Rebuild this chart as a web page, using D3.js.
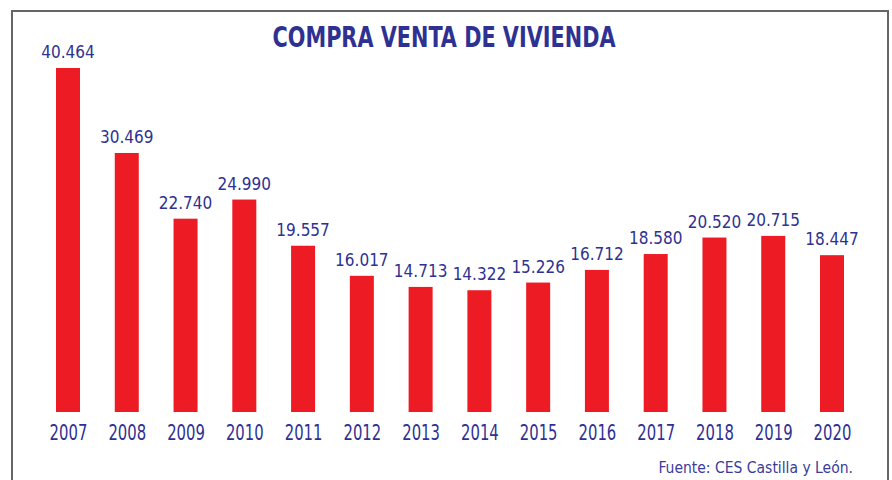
<!DOCTYPE html>
<html>
<head>
<meta charset="utf-8">
<script src="https://cdn.jsdelivr.net/npm/d3@7"></script>
<style>
  body { margin: 0; background: #fff; }
  svg { display: block; }
</style>
</head>
<body>
<div id="chart"></div>
<script>
var years = ["2007", "2008", "2009", "2010", "2011", "2012", "2013",
             "2014", "2015", "2016", "2017", "2018", "2019", "2020"];
var ventas = [40464, 30469, 22740, 24990, 19557, 16017, 14713,
              14322, 15226, 16712, 18580, 20520, 20715, 18447];
var valueLabels = ["40.464", "30.469", "22.740", "24.990", "19.557", "16.017", "14.713",
                   "14.322", "15.226", "16.712", "18.580", "20.520", "20.715", "18.447"];

var width = 892, height = 480;
var blue = "#2e3192", red = "#ed1c24";

var svg = d3.select("#chart")
    .append("svg")
    .attr("width", width)
    .attr("height", height);

// frame
svg.append("rect")
    .attr("x", 12).attr("y", 11)
    .attr("width", 876).attr("height", 480)
    .attr("fill", "none")
    .attr("stroke", "#666")
    .attr("stroke-width", 2);

var x = d3.scalePoint()
    .domain(years)
    .range([68, 832]);

var y = d3.scaleLinear()
    .domain([0, d3.max(ventas)])
    .range([412, 68]);

var barW = 24;
var data = years.map(function(d, i) { return {year: d, v: ventas[i], label: valueLabels[i]}; });

svg.selectAll(".bar")
    .data(data)
    .enter().append("rect")
    .attr("class", "bar")
    .attr("x", function(d) { return x(d.year) - barW / 2; })
    .attr("y", function(d) { return y(d.v); })
    .attr("width", barW)
    .attr("height", function(d) { return y(0) - y(d.v); })
    .attr("fill", red);

svg.selectAll(".val")
    .data(data)
    .enter().append("text")
    .attr("class", "val")
    .attr("x", function(d) { return x(d.year); })
    .attr("y", function(d) { return y(d.v) - 10; })
    .attr("text-anchor", "middle")
    .style("font", "17px 'DejaVu Sans Condensed', 'DejaVu Sans', sans-serif")
    .style("fill", blue)
    .text(function(d) { return d.label; });

// year axis labels (no line)
var xAxis = svg.append("g")
    .attr("transform", "translate(0,412)")
    .call(d3.axisBottom(x).tickSize(0).tickPadding(0));
xAxis.select(".domain").remove();
xAxis.selectAll("text")
    .attr("y", 0)
    .attr("dy", null)
    .attr("transform", "translate(0,28) scale(1,1.3)")
    .style("font", "16.5px 'DejaVu Sans Condensed', 'DejaVu Sans', sans-serif")
    .style("fill", blue);

svg.append("text")
    .attr("x", 444)
    .attr("y", 47)
    .attr("text-anchor", "middle")
    .attr("textLength", 343)
    .attr("lengthAdjust", "spacingAndGlyphs")
    .style("font", "bold 28px 'DejaVu Sans Condensed', 'DejaVu Sans', sans-serif")
    .style("fill", blue)
    .text("COMPRA VENTA DE VIVIENDA");

svg.append("text")
    .attr("x", 853)
    .attr("y", 473)
    .attr("text-anchor", "end")
    .style("font", "15.5px 'DejaVu Sans Condensed', 'DejaVu Sans', sans-serif")
    .style("fill", "#3b3b9b")
    .text("Fuente: CES Castilla y León.");
</script>
</body>
</html>
